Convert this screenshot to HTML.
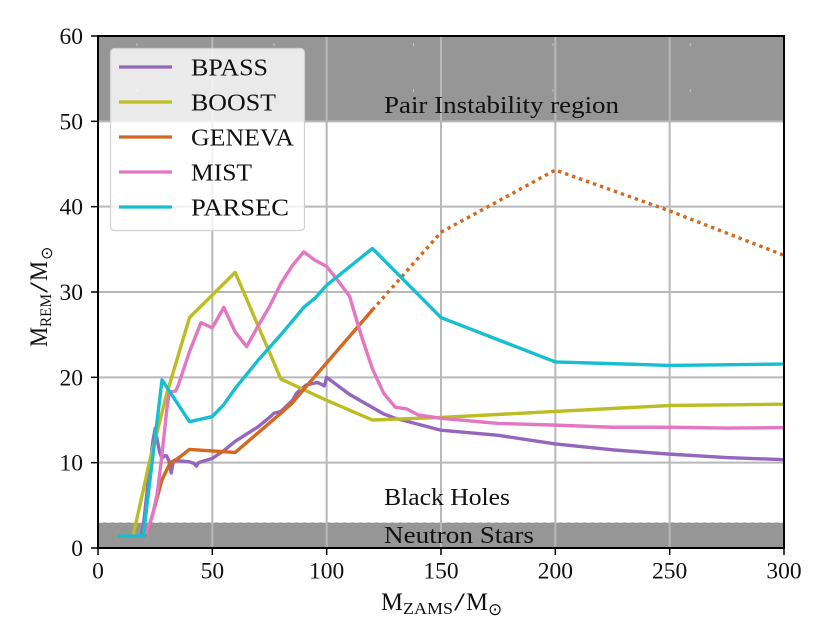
<!DOCTYPE html>
<html>
<head>
<meta charset="utf-8">
<style>
html,body{margin:0;padding:0;background:#fff;}
svg{display:block;}
text{font-family:"Liberation Serif",serif;fill:#111;}
</style>
</head>
<body>
<svg id="chart" width="831" height="644" viewBox="0 0 831 644" xmlns="http://www.w3.org/2000/svg">
<g id="regions"></g>
<g id="grid"></g>
<g id="specks"></g>
<g id="lines"></g>
<text x="384" y="113" font-size="24" textLength="235" lengthAdjust="spacingAndGlyphs">Pair Instability region</text>
<text x="384" y="505" font-size="24" textLength="126" lengthAdjust="spacingAndGlyphs">Black Holes</text>
<text x="384" y="543" font-size="24" textLength="150" lengthAdjust="spacingAndGlyphs">Neutron Stars</text>
<g id="axes"></g>
<g>
<text x="381" y="610" font-size="25" textLength="22" lengthAdjust="spacingAndGlyphs">M</text>
<text x="403" y="614" font-size="17" textLength="50" lengthAdjust="spacingAndGlyphs">ZAMS</text>
<text x="454" y="610" font-size="25" textLength="11" lengthAdjust="spacingAndGlyphs">/</text>
<text x="466" y="610" font-size="25" textLength="22" lengthAdjust="spacingAndGlyphs">M</text>
<text x="488" y="615" font-size="17" style="font-family:'DejaVu Sans',sans-serif">⊙</text>
</g>
<g transform="translate(47,347) rotate(-90)">
<text x="0" y="0" font-size="25" textLength="20" lengthAdjust="spacingAndGlyphs">M</text>
<text x="20" y="4" font-size="16" textLength="33" lengthAdjust="spacingAndGlyphs">REM</text>
<text x="54" y="0" font-size="25" textLength="11" lengthAdjust="spacingAndGlyphs">/</text>
<text x="66" y="0" font-size="25" textLength="20" lengthAdjust="spacingAndGlyphs">M</text>
<text x="87" y="5" font-size="16" style="font-family:'DejaVu Sans',sans-serif">⊙</text>
</g>
<g>
<rect x="110.5" y="48.5" width="194" height="182" rx="4" fill="#fff" fill-opacity="0.8" stroke="#d0d0d0" stroke-width="1.2"/>
<g><line x1="119" x2="172" y1="67" y2="67" stroke="#9467bd" stroke-width="3.2"/><text x="191" y="75.5" font-size="24" textLength="77" lengthAdjust="spacingAndGlyphs">BPASS</text></g>
<g><line x1="119" x2="172" y1="102" y2="102" stroke="#bcbd22" stroke-width="3.2"/><text x="191" y="110.5" font-size="24" textLength="85" lengthAdjust="spacingAndGlyphs">BOOST</text></g>
<g><line x1="119" x2="172" y1="137" y2="137" stroke="#d2691e" stroke-width="3.2"/><text x="191" y="145.5" font-size="24" textLength="103" lengthAdjust="spacingAndGlyphs">GENEVA</text></g>
<g><line x1="119" x2="172" y1="172" y2="172" stroke="#e377c2" stroke-width="3.2"/><text x="191" y="180.5" font-size="24" textLength="61" lengthAdjust="spacingAndGlyphs">MIST</text></g>
<g><line x1="119" x2="172" y1="207" y2="207" stroke="#17becf" stroke-width="3.2"/><text x="191" y="215.5" font-size="24" textLength="98" lengthAdjust="spacingAndGlyphs">PARSEC</text></g>
</g>
</svg>
<script>
const xTicks = [0, 50, 100, 150, 200, 250, 300];
const yTicks = [0, 10, 20, 30, 40, 50, 60];

const bpassX = [19, 20, 22, 24, 25, 26, 27, 28, 29, 30, 31, 32, 33, 36, 40, 42, 43, 44, 50, 55, 60, 70, 75, 77, 80, 85, 87, 88, 91, 96, 99, 100, 110, 125, 130, 150, 175, 200, 225, 250, 275, 300];
const bpassY = [1.4, 3, 8, 12.5, 14, 12.5, 11.2, 10.5, 10.8, 10.8, 10.2, 8.8, 10.2, 10.2, 10.1, 9.9, 9.6, 10, 10.5, 11.4, 12.5, 14.2, 15.3, 15.8, 16, 17.3, 18.2, 18.4, 19.1, 19.4, 19, 20, 18, 15.7, 15.2, 13.8, 13.2, 12.2, 11.5, 11, 10.6, 10.35];

const boostX = [15.3, 20, 22.4, 30, 40, 60, 80, 100, 120, 150, 200, 250, 300];
const boostY = [1.4, 7, 10, 18, 27, 32.3, 19.8, 17.3, 15, 15.3, 16, 16.7, 16.85];

const genevaX = [20, 22, 25, 28, 31.6, 33, 35, 40, 60, 70, 80, 85, 90, 100, 110, 120];
const genevaY = [1.4, 2.2, 5, 8, 10, 10.2, 10.5, 11.55, 11.2, 13.5, 15.8, 17, 18.6, 21.7, 24.8, 27.9];

const genevaExtrapX = [120, 150, 200, 250, 300];
const genevaExtrapY = [27.9, 37, 44.3, 39.5, 34.3];

const mistX = [21, 24, 26, 28, 30, 31, 32, 34, 35, 40, 45, 50, 55, 60, 65, 70, 75, 80, 85, 90, 95, 100, 105, 110, 115, 120, 125, 130, 135, 140, 150, 175, 200, 225, 250, 275, 300];
const mistY = [1.6, 4, 6.5, 11, 16, 18, 18.3, 18.4, 19, 23, 26.4, 25.8, 28.2, 25.3, 23.6, 26, 28.3, 31, 33.1, 34.7, 33.7, 33, 31.3, 29.5, 25, 21, 18.1, 16.5, 16.3, 15.6, 15.2, 14.6, 14.4, 14.15, 14.15, 14.05, 14.1];

const parsecX = [8.5, 19.8, 28, 40, 50, 55, 60, 70, 80, 90, 95, 100, 120, 150, 200, 250, 300];
const parsecY = [1.4, 1.4, 19.7, 14.8, 15.4, 16.8, 18.7, 22, 25, 28.2, 29.3, 30.8, 35.1, 27, 21.8, 21.4, 21.55];

const speckXValues = [17, 77, 138, 199, 259];
const speckYValues = [59, 53.6];

const NS = 'http://www.w3.org/2000/svg';
const L = 98, R = 784, T = 36, B = 548;
const xS = v => L + (v / 300) * (R - L);
const yS = v => B - (v / 60) * (B - T);

function mk(tag, attrs, parent) {
  const el = document.createElementNS(NS, tag);
  for (const k in attrs) el.setAttribute(k, attrs[k]);
  parent.appendChild(el);
  return el;
}

const regions = document.getElementById('regions');
const upper = mk('rect', {x: L, y: yS(60), width: R - L, height: yS(50) - yS(60), fill: '#969696'}, regions);


const lower = mk('rect', {x: L, y: yS(3), width: R - L, height: yS(0) - yS(3), fill: '#969696'}, regions);


const upperEdge = mk('line', {x1: L, x2: R, y1: yS(50), y2: yS(50), stroke: '#d8d8d8', 'stroke-width': 1, 'stroke-dasharray': '5 3'}, regions);


const lowerEdge = mk('line', {x1: L, x2: R, y1: yS(3), y2: yS(3), stroke: '#e4e4e4', 'stroke-width': 1.2, 'stroke-dasharray': '5 3'}, regions);



const grid = document.getElementById('grid');
xTicks.forEach(t => {
  if (t === 0 || t === 300) return;
  const g = mk('line', {x1: xS(t), x2: xS(t), y1: T, y2: B, stroke: '#b8b8b8', 'stroke-width': 2}, grid);
  
  
});
yTicks.forEach(t => {
  if (t === 0 || t === 60) return;
  const g = mk('line', {x1: L, x2: R, y1: yS(t), y2: yS(t), stroke: '#b8b8b8', 'stroke-width': 2}, grid);
  
  
});

const specks = document.getElementById('specks');
speckXValues.forEach(sx => speckYValues.forEach(sy => {
  const s = mk('rect', {x: xS(sx) - 0.5, y: yS(sy) - 1.5, width: 1, height: 3, fill: '#c4c4c4'}, specks);
  
  
}));

function pts(xs, ys) {
  return xs.map((x, i) => xS(x).toFixed(2) + ',' + yS(ys[i]).toFixed(2)).join(' ');
}
const lines = document.getElementById('lines');
const base = {fill: 'none', 'stroke-width': 3.4, 'stroke-linejoin': 'round'};

const lineBpass = mk('polyline', Object.assign({points: pts(bpassX, bpassY), stroke: '#9467bd'}, base), lines);


const lineBoost = mk('polyline', Object.assign({points: pts(boostX, boostY), stroke: '#bcbd22'}, base), lines);


const lineGeneva = mk('polyline', Object.assign({points: pts(genevaX, genevaY), stroke: '#d2691e'}, base), lines);


const lineExtrap = mk('polyline', Object.assign({points: pts(genevaExtrapX, genevaExtrapY), stroke: '#d2691e', 'stroke-dasharray': '3.4 4'}, base), lines);


const lineMist = mk('polyline', Object.assign({points: pts(mistX, mistY), stroke: '#e377c2'}, base), lines);


const lineParsec = mk('polyline', Object.assign({points: pts(parsecX, parsecY), stroke: '#17becf'}, base), lines);



const axes = document.getElementById('axes');
const frame = mk('rect', {x: L, y: T, width: R - L, height: B - T, fill: 'none', stroke: '#000', 'stroke-width': 2}, axes);


xTicks.forEach(t => {
  const tick = mk('line', {x1: xS(t), x2: xS(t), y1: B, y2: B + 7, stroke: '#000', 'stroke-width': 1.5}, axes);
  
  
  const label = mk('text', {x: xS(t), y: 578.5, 'font-size': 23.5, 'text-anchor': 'middle'}, axes);
  
  
  label.textContent = t;
});
yTicks.forEach(t => {
  const tick = mk('line', {x1: L - 7, x2: L, y1: yS(t), y2: yS(t), stroke: '#000', 'stroke-width': 1.5}, axes);
  
  
  const label = mk('text', {x: 83, y: yS(t) + 8, 'font-size': 23.5, 'text-anchor': 'end'}, axes);
  
  
  label.textContent = t;
});
</script>
</body>
</html>
